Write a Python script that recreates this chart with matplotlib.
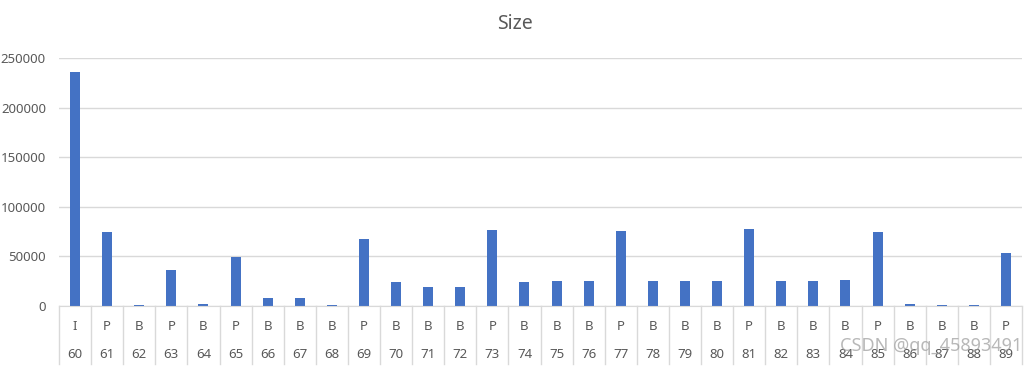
import matplotlib.pyplot as plt
import matplotlib.transforms as mtransforms

plt.rcParams['font.family'] = ['Noto Sans', 'DejaVu Sans']

# frame numbers, frame types and frame sizes
frames = [str(n) for n in range(60, 90)]
types = ['I', 'P', 'B', 'P', 'B', 'P', 'B', 'B', 'B', 'P',
         'B', 'B', 'B', 'P', 'B', 'B', 'B', 'P', 'B', 'B',
         'B', 'P', 'B', 'B', 'B', 'P', 'B', 'B', 'B', 'P']
sizes = [236000, 75000, 1000, 36300, 2000, 49400, 8000, 8000, 1000, 67600,
         24200, 19000, 19000, 76700, 24200, 25200, 25200, 75700, 25200, 25200,
         25200, 77700, 25200, 25200, 26200, 74700, 2000, 1000, 1000, 53500]
yticks = [0, 50000, 100000, 150000, 200000, 250000]

txt = '#595959'
grid = '#D9D9D9'

fig = plt.figure(figsize=(10.26, 3.66), dpi=100)
ax = fig.add_axes([59 / 1026, 1 - 306 / 366, (1022 - 59) / 1026, (306 - 58.3) / 366])

x = list(range(len(frames)))
ax.bar(x, sizes, width=0.31, color='#4472C4', zorder=3)

ax.set_xlim(-0.5, len(frames) - 0.5)
ax.set_ylim(0, 250000)
ax.set_yticks(yticks)
ax.set_yticklabels([str(v) for v in yticks], color=txt, fontsize=9.5)
ax.tick_params(axis='y', length=0, pad=9.4)
ax.set_xticks([])
ax.grid(axis='y', color=grid, linewidth=1, zorder=0)
for s in ['top', 'right', 'left']:
    ax.spines[s].set_visible(False)
ax.spines['bottom'].set_color(grid)
ax.spines['bottom'].set_zorder(4)

# two-level category axis
tr = mtransforms.blended_transform_factory(ax.transData, fig.transFigure)
for i in range(len(frames) + 1):
    ax.plot([i - 0.5, i - 0.5], [1 - 306 / 366, 1 - 364 / 366], color=grid,
            linewidth=1, transform=tr, clip_on=False)
for i, (t, f) in enumerate(zip(types, frames)):
    ax.text(i, 1 - 326 / 366, t, transform=tr, ha='center', va='center',
            color=txt, fontsize=9.5)
    ax.text(i, 1 - 354 / 366, f, transform=tr, ha='center', va='center',
            color=txt, fontsize=9.5)

fig.text(515 / 1026, 1 - 24 / 366, 'Size', ha='center', va='center',
         color=txt, fontsize=14)
fig.text(840 / 1026, 1 - 346 / 366, 'CSDN @qq_45893491', ha='left', va='center',
         color='#9a9a9a', alpha=0.7, fontsize=13)

fig.savefig('out.png', dpi=100)
